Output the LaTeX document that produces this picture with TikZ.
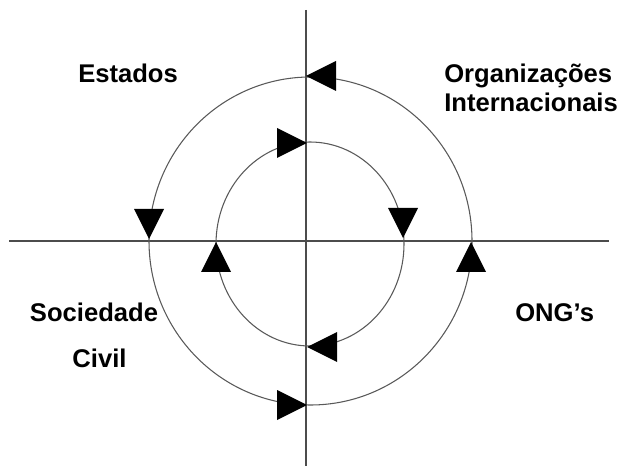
\documentclass[tikz,border=0pt]{standalone}
\usepackage{fontspec}
\setmainfont{Liberation Sans}
\usetikzlibrary{positioning}
\newcommand\TL{30}
\newcommand\TW{15}

\begin{document}
\begin{tikzpicture}[x=0.75pt,y=-0.75pt,
	lbl/.style={font=\fontsize{19.2}{22}\selectfont\bfseries,inner sep=0pt},
	ring/.style={draw=black!65,line width=0.8pt},
	axis/.style={draw=black!70,line width=1pt}]
\useasboundingbox (0,0) rectangle (617,466);
% axes
\draw [axis](9,241) -- (609,241);
\draw [axis](306,10) -- (306,466);
% circles
\draw [ring](310.5,241) ellipse (161.5 and 164);
\draw [ring](310,244) ellipse (94 and 102);
% arrow heads, tip x/y and direction back to the base
\foreach \x/\y/\u/\v in {306/76/1/0, 149/239/0/-1, 307/405/-1/0, 471/242/0/1,
	307/143/-1/0, 403/238/0/-1, 307/347/1/0, 216/242/0/1} {
	\fill (\x,\y) -- ++(\TL*\u+\TW*\v,\TL*\v+\TW*\u) -- ++(-2*\TW*\v,-2*\TW*\u) -- cycle;
}
% labels
\node [lbl,anchor=base west] (est) at (78,83) {Estados};
\node [lbl,anchor=base west] (org) at (444,83) {Organizações};
\node [lbl,anchor=base west] (int) at (444,112) {Internacionais};
\node [lbl,anchor=base] (sc) at (94,322) {Sociedade};
\node [lbl,anchor=base] (civ) at (99.5,368) {Civil};
\node [lbl,anchor=base west] (ong) at (515,322) {ONG’s};
\end{tikzpicture}
\end{document}
